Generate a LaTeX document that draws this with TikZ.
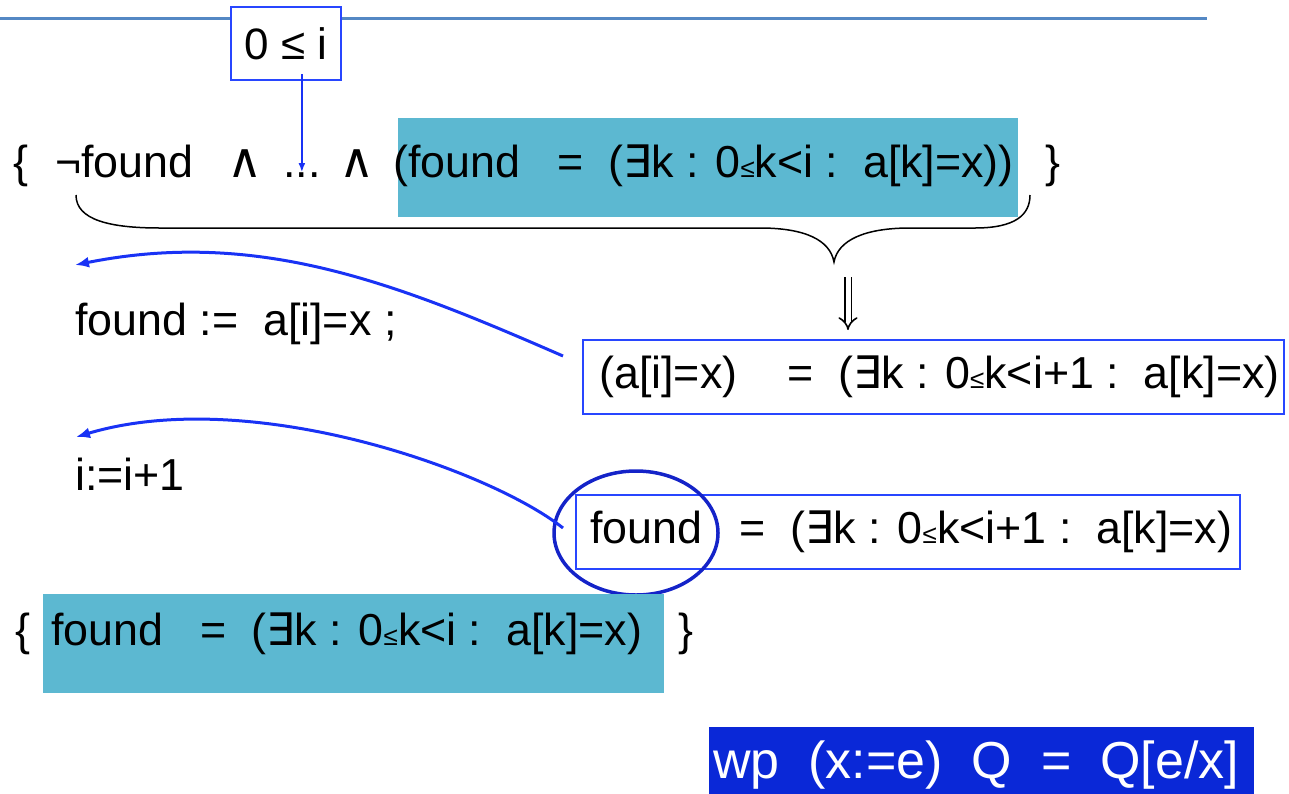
\documentclass[tikz,border=0pt]{standalone}
\usepackage{fontspec}
\setmainfont{Liberation Sans}
\newfontfamily\symf{DejaVu Sans}
\usetikzlibrary{arrows.meta,calc,shapes.geometric}

\definecolor{rulecol}{RGB}{84,136,196}
\definecolor{hlcyan}{RGB}{92,184,209}
\definecolor{boxblue}{RGB}{40,70,255}
\definecolor{arrblue}{RGB}{25,50,245}
\definecolor{ringblue}{RGB}{20,35,200}
\definecolor{wpblue}{RGB}{10,40,215}

% small less-or-equal inside the ranges, symbols from DejaVu
\newcommand{\sle}{{\fontsize{26}{26}\selectfont ≤}}
\newcommand{\exq}{{\symf ∃}}
\newcommand{\lnd}{{\symf\fontsize{48}{48}\selectfont ∧}}

\begin{document}
\begin{tikzpicture}[x=1pt,y=-1pt]
	\tikzset{>=latex}
	\tikzset{txt/.style={inner sep=0pt,anchor=base west,font=\fontsize{44.8}{50}\selectfont}}
	\tikzset{hl/.style={fill=hlcyan,inner sep=0pt,anchor=north west}}
	\tikzset{bluebox/.style={draw=boxblue,line width=2pt,inner sep=0pt,anchor=north west}}
	\tikzset{backarrow/.style={-{Latex[length=14pt,width=11pt]},arrblue,line width=3pt}}
	\useasboundingbox (0,0) rectangle (1289,793);
	
	\draw[rulecol,line width=3pt] (0,18) -- (1207,18);
	\node[bluebox,fill=white,anchor=center,minimum width=110pt,minimum height=73pt,font=\fontsize{44}{50}\selectfont] (zeroi) at (286,43.5) {0 ≤ i};
	
	% precondition
	\node[hl,minimum width=620pt,minimum height=99pt] (hl1) at (398,118) {};
	\node[txt] (lbr1) at (13,177) {\{};
	\node[txt] (notf) at (55,177) {¬found};
	\node[txt] (and1) at (227,177) {\lnd};
	\node[txt] (dots) at (283,177) {...};
	\node[txt] (and2) at (339,177) {\lnd};
	\node[txt] (inv1) at (393,177) {(found~~~=~~(\exq k : 0\sle k<i :~~a[k]=x))};
	\node[txt] (rbr1) at (1045,177) {\}};
	
	\draw[-{Latex[length=9pt,width=7pt]},arrblue,line width=1.5pt] ($(dots |- zeroi.south)+(0,-7)$) -- (dots.north);
	
	% brace under the precondition
	\draw[line width=1.5pt] (76,195) .. controls (76,220) and (110,228) .. (160,228) -- (760,228)
		.. controls (805,228) and (830,240) .. (834,262)
		.. controls (838,240) and (865,228) .. (910,228) -- (975,228)
		.. controls (1015,228) and (1030,215) .. (1030,195);
	\coordinate (imp1) at (848,277);
	\coordinate (imp2) at (848,330);
	\draw[line width=1.6pt,double distance=5pt,-{Implies}] (imp1) -- (imp2);
	
	% statements
	\node[txt] (asg) at (75,335) {found :=~~a[i]=x ;};
	\node[txt] (inc) at (75,490) {i:=i+1};
	
	\node[bluebox,minimum width=701pt,minimum height=74pt] (box2) at (582,339) {};
	\node[txt] (eq2) at (599,388) {(a[i]=x)~~~~=~~(\exq k : 0\sle k<i+1 :~~a[k]=x)};
	
	\node[bluebox,minimum width=664pt,minimum height=74pt] (box3) at (575,494) {};
	\node[txt] (eq3) at (590,543) {found~~~=~~(\exq k : 0\sle k<i+1 :~~a[k]=x)};
	\node[draw=ringblue,line width=3.5pt,ellipse,minimum width=164pt,minimum height=124pt,inner sep=0pt] (ring) at (636,533) {};
	
	\coordinate (a1s) at (563,356);
	\coordinate (a1e) at (75,265);
	\draw[backarrow] (a1s) .. controls (400,285) and (260,228) .. (a1e);
	\coordinate (a2s) at (563,528);
	\coordinate (a2e) at (76,437);
	\draw[backarrow] (a2s) .. controls (490,470) and (250,385) .. (a2e);
	
	% postcondition
	\node[hl,minimum width=621pt,minimum height=99pt] (hl2) at (43,594) {};
	\node[txt] (lbr2) at (15,645) {\{};
	\node[txt] (inv2) at (51,645) {found~~~=~~(\exq k : 0\sle k<i :~~a[k]=x)};
	\node[txt] (rbr2) at (678,645) {\}};
	
	\node[hl,fill=wpblue,minimum width=545pt,minimum height=70pt] (wpbox) at (709,727) {};
	\node[txt,text=white,font=\fontsize{52}{60}\selectfont] (wp) at (713,778) {wp~~(x:=e)~~Q~~=~~Q[e/x]};
	
\end{tikzpicture}
\end{document}
